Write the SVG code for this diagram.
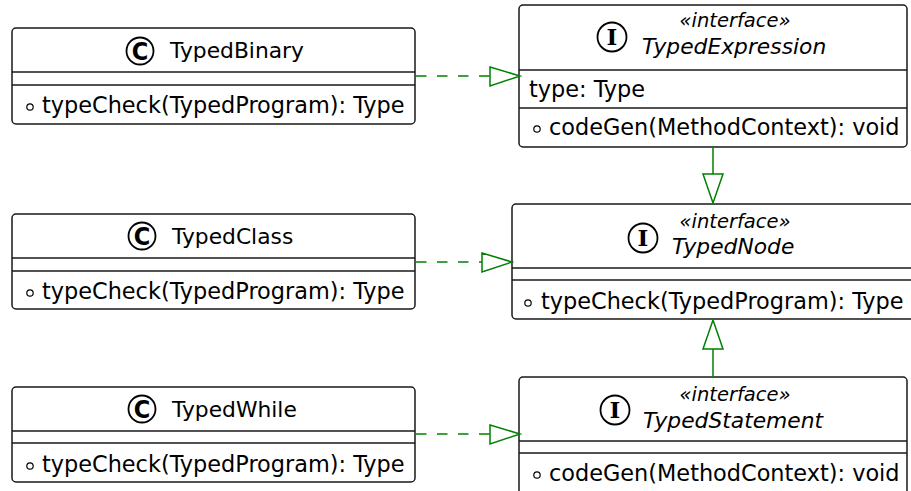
<svg xmlns="http://www.w3.org/2000/svg" width="911" height="491" viewBox="0 0 911 491">
<style>
.box{fill:#fff;stroke:#181818;stroke-width:1.5}
.sep{stroke:#181818;stroke-width:1.5}
.t{font-family:"DejaVu Sans",sans-serif;font-size:21.8px;fill:#000}
.m{font-family:"DejaVu Sans",sans-serif;font-size:22.4px;fill:#000}
.it{font-family:"DejaVu Sans",sans-serif;font-size:21.8px;font-style:italic;fill:#000}
.st{font-family:"DejaVu Sans",sans-serif;font-size:19.5px;font-style:italic;fill:#000}
.ic{fill:#fff;stroke:#000;stroke-width:1.8}
.icl{font-family:"DejaVu Sans Condensed","DejaVu Sans",sans-serif;font-size:25px;font-weight:bold;fill:#000}
.ici{font-family:"DejaVu Serif",serif;font-size:23px;font-weight:bold;fill:#000}
.vis{fill:none;stroke:#000;stroke-width:1.2}
.dash{stroke:#008000;stroke-width:1.5;stroke-dasharray:10.5 10.5;fill:none}
.solid{stroke:#008000;stroke-width:1.5;fill:none}
.head{fill:#fff;stroke:#008000;stroke-width:1.5}
</style>
<g id="TypedBinary">
<rect class="box" x="12" y="28" width="403" height="96" rx="4"/>
<circle class="ic" cx="140" cy="51" r="13.5"/>
<text class="icl" x="140" y="60" text-anchor="middle">C</text>
<text class="t" x="170" y="58">TypedBinary</text>
<line class="sep" x1="12" y1="72" x2="415" y2="72"/>
<line class="sep" x1="12" y1="85" x2="415" y2="85"/>
<circle class="vis" cx="30" cy="107" r="3.2"/>
<text class="m" x="42" y="113">typeCheck(TypedProgram): Type</text>
</g>
<g id="TypedClass">
<rect class="box" x="12" y="214" width="403" height="95" rx="4"/>
<circle class="ic" cx="142" cy="236" r="13.5"/>
<text class="icl" x="142" y="245" text-anchor="middle">C</text>
<text class="t" x="172" y="244">TypedClass</text>
<line class="sep" x1="12" y1="258" x2="415" y2="258"/>
<line class="sep" x1="12" y1="271" x2="415" y2="271"/>
<circle class="vis" cx="30" cy="293" r="3.2"/>
<text class="m" x="42" y="299">typeCheck(TypedProgram): Type</text>
</g>
<g id="TypedWhile">
<rect class="box" x="12" y="387" width="403" height="95" rx="4"/>
<circle class="ic" cx="142" cy="409" r="13.5"/>
<text class="icl" x="142" y="418" text-anchor="middle">C</text>
<text class="t" x="172" y="417">TypedWhile</text>
<line class="sep" x1="12" y1="431" x2="415" y2="431"/>
<line class="sep" x1="12" y1="443" x2="415" y2="443"/>
<circle class="vis" cx="30" cy="466" r="3.2"/>
<text class="m" x="42" y="472">typeCheck(TypedProgram): Type</text>
</g>
<g id="TypedExpression">
<rect class="box" x="519" y="5" width="388" height="142" rx="4"/>
<circle class="ic" cx="612" cy="37" r="14.5"/>
<text class="ici" x="612" y="45" text-anchor="middle">I</text>
<text class="st" x="735" y="27" text-anchor="middle">«interface»</text>
<text class="it" x="642" y="54">TypedExpression</text>
<line class="sep" x1="519" y1="70" x2="907" y2="70"/>
<text class="m" x="529" y="97">type: Type</text>
<line class="sep" x1="519" y1="108" x2="907" y2="108"/>
<circle class="vis" cx="537" cy="129" r="3.2"/>
<text class="m" x="549" y="135">codeGen(MethodContext): void</text>
</g>
<g id="TypedNode">
<rect class="box" x="512" y="204" width="410" height="115" rx="4"/>
<circle class="ic" cx="643" cy="238" r="14.5"/>
<text class="ici" x="643" y="246" text-anchor="middle">I</text>
<text class="st" x="735" y="228" text-anchor="middle">«interface»</text>
<text class="it" x="672" y="254">TypedNode</text>
<line class="sep" x1="512" y1="268" x2="922" y2="268"/>
<line class="sep" x1="512" y1="280" x2="922" y2="280"/>
<circle class="vis" cx="528" cy="303" r="3.2"/>
<text class="m" x="541" y="309">typeCheck(TypedProgram): Type</text>
</g>
<g id="TypedStatement">
<rect class="box" x="519" y="377" width="388" height="130" rx="4"/>
<circle class="ic" cx="615" cy="410" r="14.5"/>
<text class="ici" x="615" y="418" text-anchor="middle">I</text>
<text class="st" x="735" y="401" text-anchor="middle">«interface»</text>
<text class="it" x="643" y="428">TypedStatement</text>
<line class="sep" x1="519" y1="441" x2="907" y2="441"/>
<line class="sep" x1="519" y1="453" x2="907" y2="453"/>
<circle class="vis" cx="537" cy="475" r="3.2"/>
<text class="m" x="549" y="481">codeGen(MethodContext): void</text>
</g>
<g id="connectors">
<line class="dash" x1="416" y1="76" x2="490" y2="76"/>
<polygon class="head" points="490,67 520,76 490,86"/>
<line class="dash" x1="416" y1="262" x2="482" y2="262"/>
<polygon class="head" points="482,253 512,262 482,272"/>
<line class="dash" x1="416" y1="434" x2="490" y2="434"/>
<polygon class="head" points="490,425 520,434 490,444"/>
<line class="solid" x1="713" y1="147" x2="713" y2="174"/>
<polygon class="head" points="703,174 723,174 713,203"/>
<line class="solid" x1="713" y1="377" x2="713" y2="349"/>
<polygon class="head" points="703,349 723,349 713,320"/>
</g>
</svg>
